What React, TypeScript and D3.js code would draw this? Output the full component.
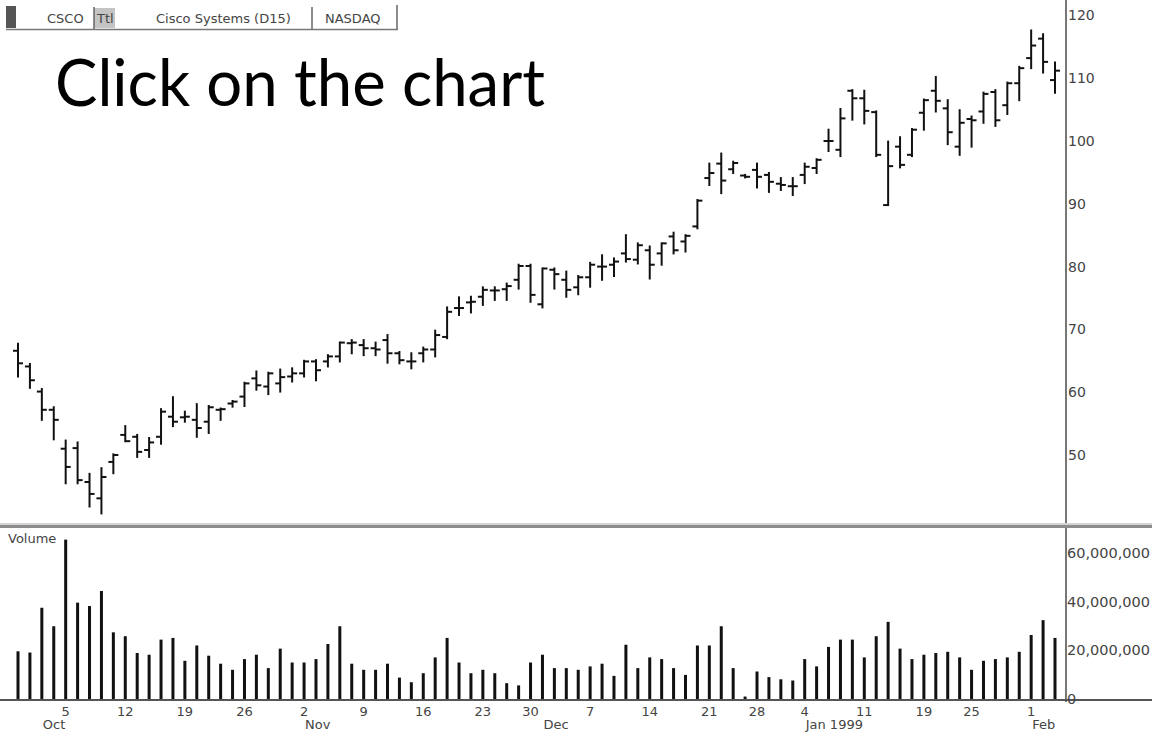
import React from "react";
import * as d3 from "d3";

const dates = [
  "1998-09-29","1998-09-30",
  "1998-10-01","1998-10-02","1998-10-05","1998-10-06","1998-10-07","1998-10-08","1998-10-09","1998-10-12","1998-10-13","1998-10-14","1998-10-15","1998-10-16","1998-10-19","1998-10-20","1998-10-21","1998-10-22","1998-10-23","1998-10-26","1998-10-27","1998-10-28","1998-10-29","1998-10-30",
  "1998-11-02","1998-11-03","1998-11-04","1998-11-05","1998-11-06","1998-11-09","1998-11-10","1998-11-11","1998-11-12","1998-11-13","1998-11-16","1998-11-17","1998-11-18","1998-11-19","1998-11-20","1998-11-23","1998-11-24","1998-11-25","1998-11-27","1998-11-30",
  "1998-12-01","1998-12-02","1998-12-03","1998-12-04","1998-12-07","1998-12-08","1998-12-09","1998-12-10","1998-12-11","1998-12-14","1998-12-15","1998-12-16","1998-12-17","1998-12-18","1998-12-21","1998-12-22","1998-12-23","1998-12-24","1998-12-28","1998-12-29","1998-12-30","1998-12-31",
  "1999-01-04","1999-01-05","1999-01-06","1999-01-07","1999-01-08","1999-01-11","1999-01-12","1999-01-13","1999-01-14","1999-01-15","1999-01-19","1999-01-20","1999-01-21","1999-01-22","1999-01-25","1999-01-26","1999-01-27","1999-01-28","1999-01-29",
  "1999-02-01","1999-02-02","1999-02-03"
];

const open = [66.6,64.1,60.1,57.2,51.0,51.1,45.7,43.1,48.9,53.2,52.9,50.8,52.9,56.1,56.0,55.6,55.3,57.2,58.2,59.3,62.2,60.9,61.4,62.5,63.0,64.9,64.9,65.7,67.8,67.5,67.0,68.3,66.2,64.9,66.2,66.8,68.8,73.4,74.3,75.2,76.2,76.4,77.9,80.1,74.0,79.5,77.9,76.7,78.3,80.0,80.3,82.1,81.1,82.6,82.1,84.8,84.0,86.4,94.1,96.4,95.5,94.5,95.4,94.6,93.2,92.8,94.6,95.7,100.0,98.6,108.0,106.8,104.6,89.8,99.1,97.8,104.5,108.0,105.2,99.1,103.5,104.7,107.8,105.7,109.2,113.2,116.3,109.7];
const high = [67.7,64.5,60.5,57.6,52.3,52.0,47.0,47.9,50.1,54.6,53.2,52.7,57.3,59.2,56.9,58.1,57.8,57.4,58.6,61.5,63.3,63.1,63.6,63.8,65.0,65.1,65.9,67.9,68.3,68.3,67.9,69.1,66.4,66.2,67.1,69.8,73.5,75.1,75.2,76.7,76.7,77.3,80.3,80.3,79.7,79.7,79.2,78.5,80.6,81.8,81.3,85.0,83.7,83.2,83.7,85.4,85.0,90.6,96.4,98.0,96.7,94.6,96.4,94.9,94.1,94.1,96.4,97.1,101.8,105.1,108.1,108.0,104.7,99.9,100.6,101.9,106.6,110.2,106.5,104.9,103.9,107.7,108.1,109.3,111.8,117.6,117.0,112.5];
const low = [62.5,60.7,55.6,52.5,45.5,45.5,41.8,40.7,47.1,52.2,49.7,49.7,51.8,54.6,55.3,52.9,53.5,55.6,57.7,57.8,60.4,59.7,60.1,61.7,62.5,61.9,64.1,64.9,66.2,65.9,65.9,64.7,64.6,63.8,64.9,65.7,68.6,72.3,72.7,73.9,74.7,74.7,76.5,74.4,73.5,76.5,75.2,75.6,76.8,77.9,78.5,80.8,80.5,78.1,80.3,82.1,82.4,86.1,93.0,91.7,94.9,94.2,92.6,91.9,92.2,91.4,93.3,94.9,98.4,97.6,103.4,102.8,97.6,89.8,95.8,97.6,101.8,104.7,99.5,97.8,99.1,102.9,102.4,104.3,106.5,111.6,110.9,107.7];
const close = [64.6,61.9,57.2,55.6,48.1,46.0,43.8,46.5,50.0,52.2,50.5,52.0,56.9,55.3,56.1,54.3,57.6,57.3,58.5,61.4,61.1,63.0,62.4,63.0,64.9,63.5,65.7,67.9,67.9,67.0,66.8,66.2,65.1,64.9,66.8,69.1,72.8,73.4,74.4,76.3,76.2,76.9,80.1,75.5,79.7,78.8,76.3,78.3,80.3,80.0,80.8,81.2,83.4,80.3,83.7,82.6,84.9,90.5,94.9,93.7,96.5,94.3,94.3,93.5,93.0,92.8,95.9,97.0,100.0,103.6,106.8,104.8,97.8,96.0,96.2,101.8,106.5,106.4,101.4,102.9,103.3,107.5,103.3,109.2,111.6,115.2,112.6,111.2];
// volume in millions of shares
const volume = [19.6,19.1,37.5,29.9,65.5,39.6,38.2,44.4,27.4,25.8,18.9,18.2,24.4,25.1,15.7,22.0,17.8,14.5,12.0,16.4,18.2,12.7,20.7,15.0,15.0,16.4,22.6,29.9,14.5,12.0,12.0,14.5,8.8,6.9,10.6,17.1,25.1,15.0,10.6,12.0,10.6,6.5,5.6,15.0,18.2,12.7,12.7,12.0,13.4,14.5,9.5,22.3,12.7,17.1,16.4,12.7,9.9,22.0,22.0,29.9,12.7,1.0,11.3,9.0,8.1,7.6,16.4,13.4,21.4,24.4,24.4,17.1,25.8,31.7,20.7,16.4,18.2,18.9,19.4,17.1,12.0,15.7,16.4,17.1,19.4,26.3,32.4,25.1];

const weekTicks = ["1998-10-05","1998-10-12","1998-10-19","1998-10-26","1998-11-02","1998-11-09","1998-11-16","1998-11-23","1998-11-30","1998-12-07","1998-12-14","1998-12-21","1998-12-28","1999-01-04","1999-01-11","1999-01-19","1999-01-25","1999-02-01"];
const monthStarts = ["1998-10-01","1998-11-02","1998-12-01","1999-01-04","1999-02-01"];
const monthLabels = ["Oct","Nov","Dec","Jan 1999","Feb"];
const priceTicks = [50,60,70,80,90,100,110,120];
const volumeTicks = [0,20,40,60];

const W = 1152, H = 732;
const AXIS_X = 1066;
const FONT = "'DejaVu Sans', Verdana, sans-serif";

export default function App() {
  const x = d3.scalePoint<string>().domain(dates).range([18, 1055]);
  const y = d3.scaleLinear().domain([50, 120]).range([455, 15.4]);
  const v = d3.scaleLinear().domain([0, 60]).range([699, 553]);
  const fmt = d3.format(",");
  const tick = 5;

  return (
    <svg width={W} height={H} style={{ position: "absolute", left: 0, top: 0, background: "#fff" }}>
      <rect x={0} y={0} width={W} height={H} fill="#fff" />
      {/* header */}
      <g fontFamily={FONT} fontSize={13} fill="#444">
        <rect x={6} y={6} width={10} height={22} fill="#555" />
        <rect x={94} y={8} width={21} height={20} fill="#c4c4c4" />
        <line x1={94} y1={7} x2={94} y2={29} stroke="#666" strokeWidth={1.5} />
        <line x1={312} y1={7} x2={312} y2={29} stroke="#666" strokeWidth={1.5} />
        <line x1={397} y1={5} x2={397} y2={30} stroke="#666" strokeWidth={1.5} />
        <line x1={6} y1={29.5} x2={398} y2={29.5} stroke="#777" strokeWidth={1.5} />
        <text x={47} y={23}>CSCO</text>
        <text x={97} y={23}>Ttl</text>
        <text x={156} y={23}>Cisco Systems (D15)</text>
        <text x={325} y={23}>NASDAQ</text>
      </g>
      <text x={55} y={106} fontFamily="Lato, 'Open Sans', sans-serif" fontWeight={400} fontSize={66} fill="#000" textLength={490} lengthAdjust="spacingAndGlyphs">Click on the chart</text>

      {/* price bars */}
      <g stroke="#111" strokeWidth={2}>
        {dates.map((d, i) => {
          const cx = x(d)!;
          return (
            <g key={d}>
              <line x1={cx} x2={cx} y1={y(high[i]) - 1} y2={y(low[i]) + 1} />
              <line x1={cx - tick} x2={cx} y1={y(open[i])} y2={y(open[i])} />
              <line x1={cx} x2={cx + tick} y1={y(close[i])} y2={y(close[i])} />
            </g>
          );
        })}
      </g>

      {/* panel separator */}
      <rect x={0} y={523} width={W} height={2} fill="#d4d4d4" />
      <rect x={0} y={525} width={W} height={3} fill="#8c8c8c" />

      {/* volume bars */}
      <g fill="#111">
        {dates.map((d, i) => (
          <rect key={d} x={x(d)! - 1.5} width={3} y={v(volume[i])} height={v(0) - v(volume[i])} />
        ))}
      </g>
      <text x={8} y={543} fontFamily={FONT} fontSize={13} fill="#444">Volume</text>

      {/* axes lines */}
      <line x1={AXIS_X} x2={AXIS_X} y1={0} y2={523} stroke="#777" strokeWidth={2} />
      <line x1={AXIS_X} x2={AXIS_X} y1={528} y2={702} stroke="#777" strokeWidth={2} />
      <line x1={0} x2={W} y1={700} y2={700} stroke="#555" strokeWidth={2} />

      {/* price axis labels */}
      <g fontFamily={FONT} fontSize={14} fill="#444">
        {priceTicks.map(p => (
          <text key={p} x={AXIS_X + 2} y={y(p)} dominantBaseline="central">{p}</text>
        ))}
        {volumeTicks.map(t => (
          <text key={t} x={AXIS_X + 1} y={v(t)} dominantBaseline="central" fontSize={14.5}>{fmt(t * 1e6)}</text>
        ))}
      </g>

      {/* date axis labels */}
      <g fontFamily={FONT} fontSize={13} fill="#444">
        {weekTicks.map(d => (
          <text key={d} x={x(d)!} y={716} textAnchor="middle">{+d.slice(8)}</text>
        ))}
        {monthStarts.map((d, i) => (
          <text key={d} x={x(d)! + 1} y={729}>{monthLabels[i]}</text>
        ))}
      </g>
    </svg>
  );
}
